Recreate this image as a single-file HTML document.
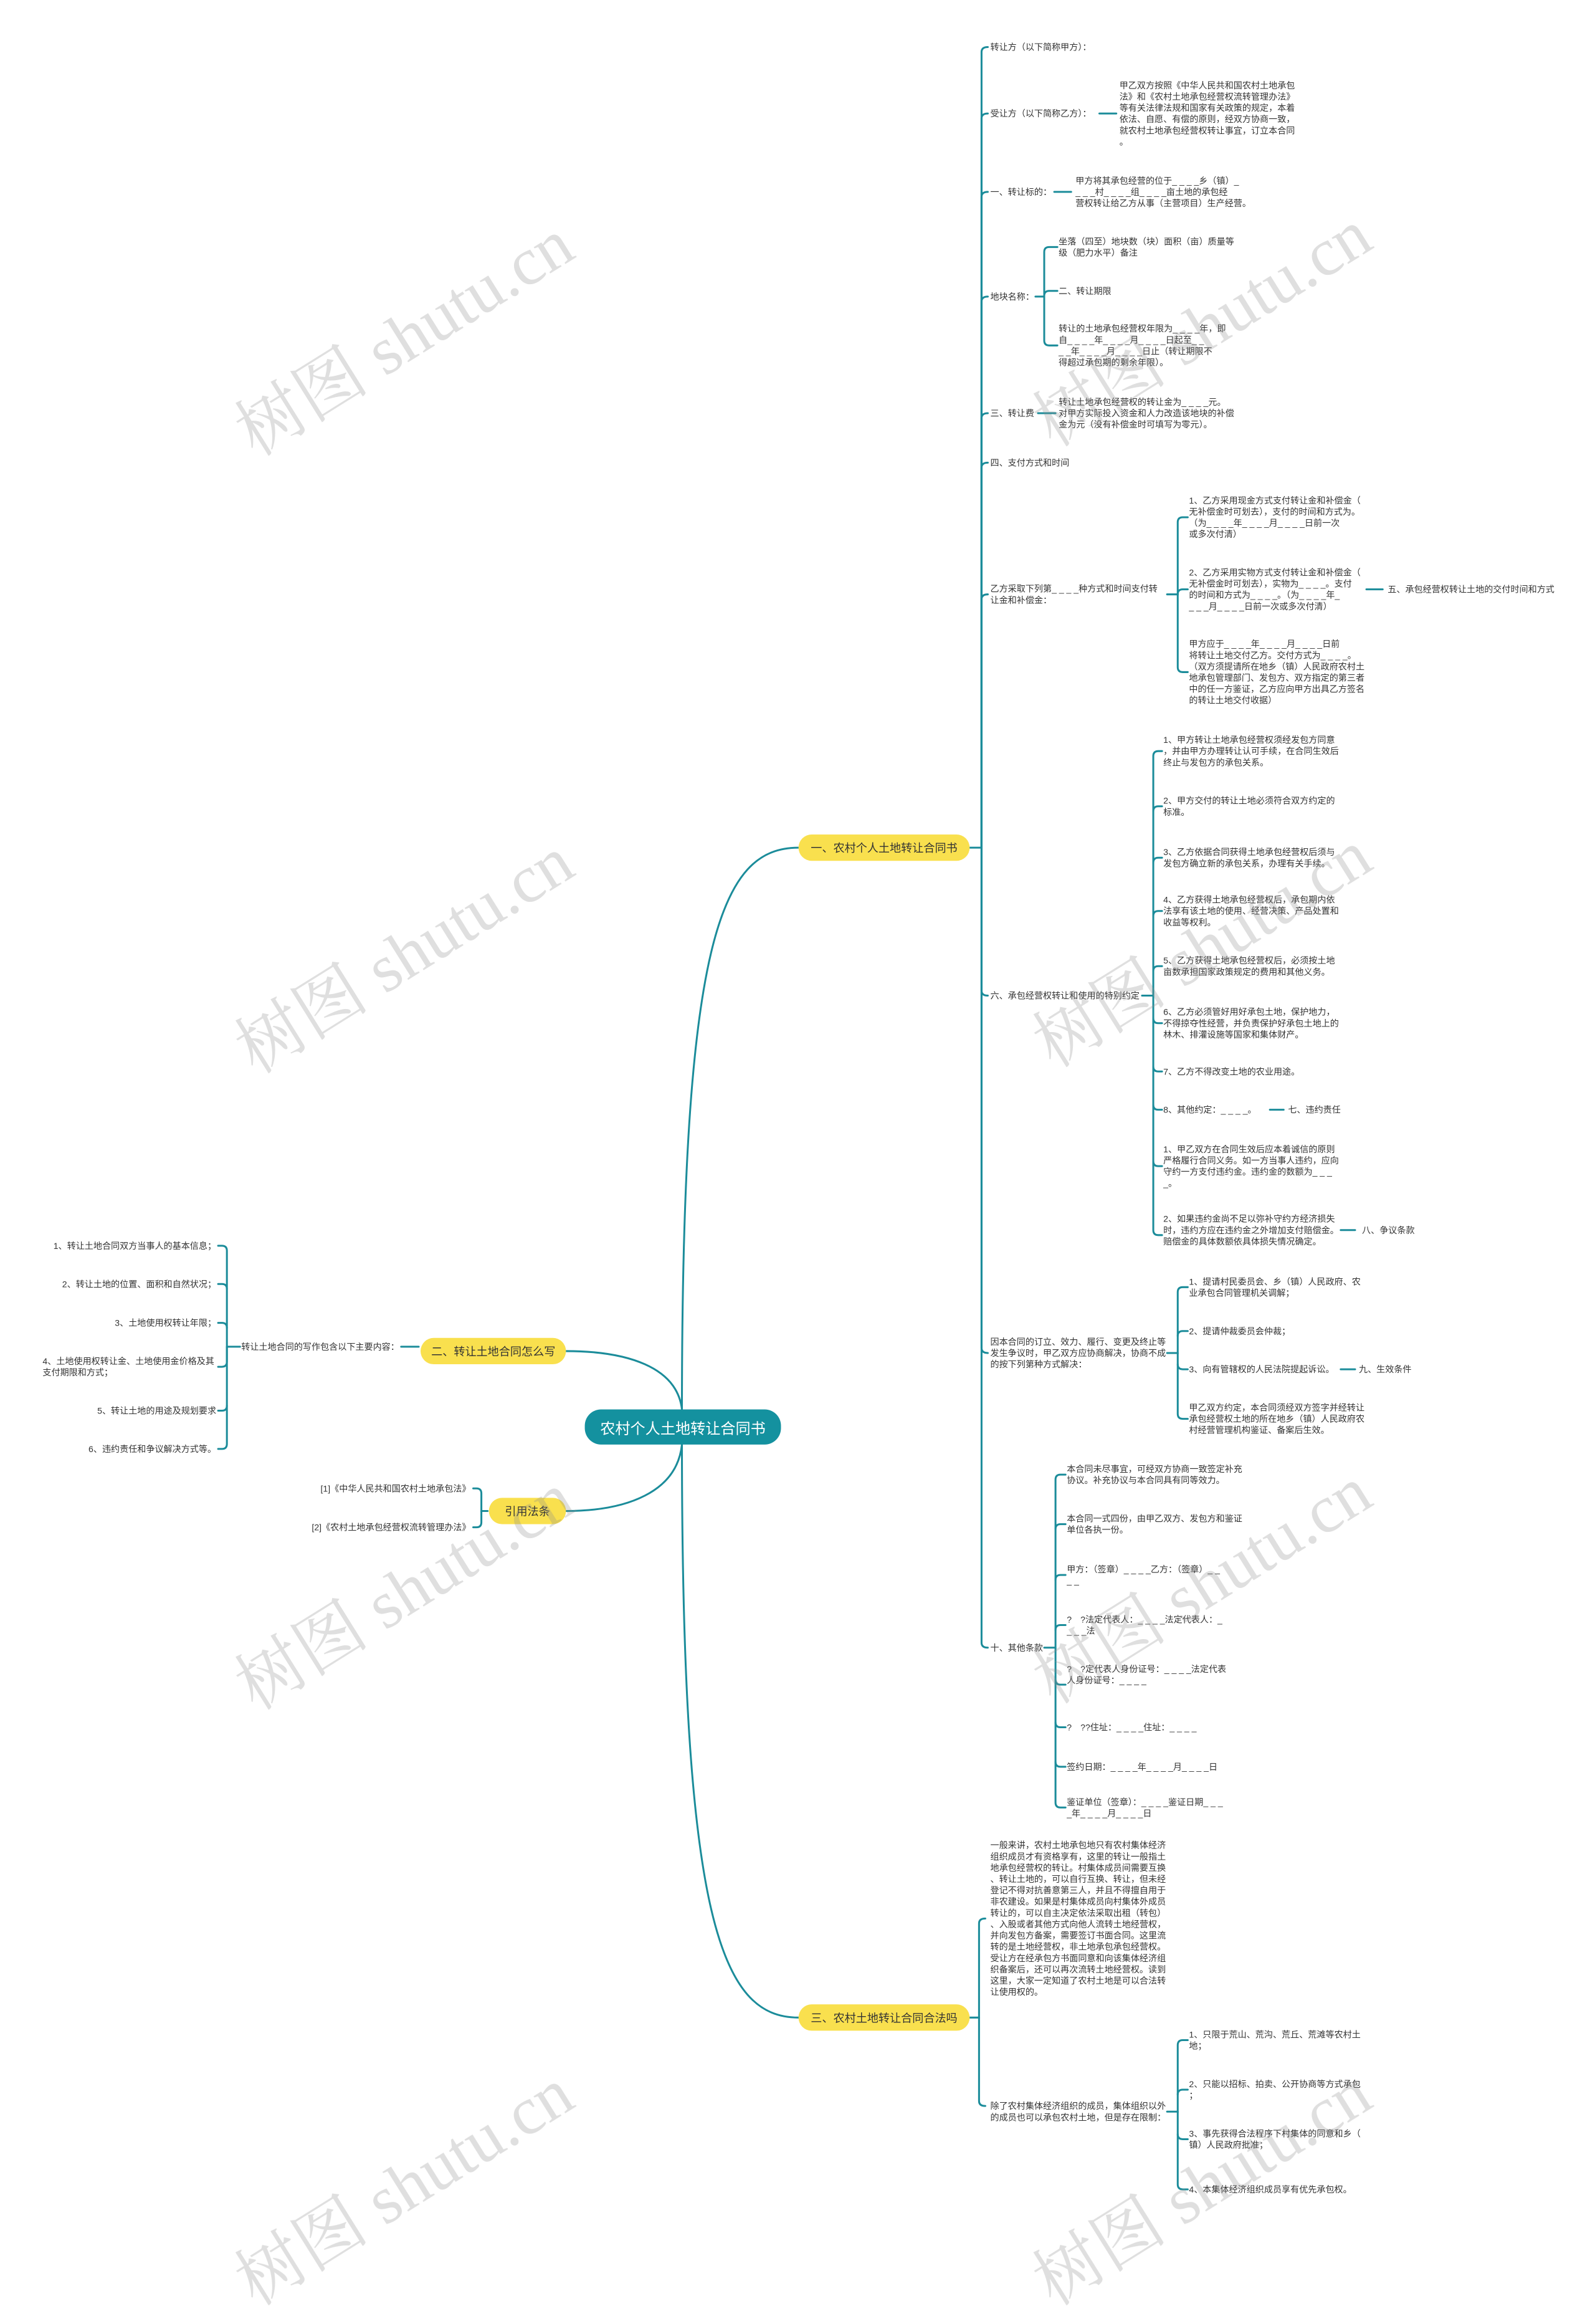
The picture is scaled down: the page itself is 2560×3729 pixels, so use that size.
<!DOCTYPE html>
<html><head><meta charset="utf-8">
<style>
html,body{margin:0;padding:0;background:#fff;}
body{width:2560px;height:3571px;overflow:hidden;position:relative;font-family:"Liberation Sans","Noto Sans CJK SC",sans-serif;}
#w{position:absolute;left:0;top:0;width:2545px;height:3550px;transform:scale(1.006);transform-origin:0 0;}
.t{position:absolute;font-size:14px;line-height:18px;color:#333;white-space:nowrap;}
.r{text-align:right;}
.pill{position:absolute;background:#f9e04e;border-radius:21px;color:#333;font-size:18px;display:flex;align-items:center;justify-content:center;white-space:nowrap;}
.center{position:absolute;background:#14919f;border-radius:26px;color:#fff;font-size:24px;display:flex;align-items:center;justify-content:center;white-space:nowrap;}
.wm{position:absolute;font-family:"Liberation Serif","Noto Serif CJK SC",serif;font-size:108px;color:rgba(140,140,140,0.28);white-space:nowrap;transform:translate(-50%,-50%) rotate(-32deg);}
svg{position:absolute;left:0;top:0;}
</style></head><body><div id="w">
<svg width="2545" height="3550" fill="none" stroke="#1b8c9a" stroke-width="3" stroke-linecap="round">
<!-- main curves -->
<path d="M1088,2248 C1088,1500 1150,1352 1274,1352"/>
<path d="M1088,2304 C1088,3060 1150,3218 1274,3218"/>
<path d="M1088,2248 C1080,2180 1000,2155 903,2155"/>
<path d="M1088,2304 C1080,2380 1000,2410 903,2410"/>
<!-- branch1 trunk -->
<path d="M1547,1352 H1566"/>
<path d="M1566,1352 V83 Q1566,75 1576,75"/>
<path d="M1566,1352 V189 Q1566,181 1576,181"/>
<path d="M1566,1352 V314 Q1566,306 1576,306"/>
<path d="M1566,1352 V481 Q1566,473 1576,473"/>
<path d="M1566,1352 V667 Q1566,659 1576,659"/>
<path d="M1566,1352 V746 Q1566,738 1576,738"/>
<path d="M1566,1352 V956 Q1566,948 1576,948"/>
<path d="M1566,1352 V1580 Q1566,1588 1576,1588"/>
<path d="M1566,1352 V2150 Q1566,2158 1576,2158"/>
<path d="M1566,1352 V2620 Q1566,2628 1576,2628"/>
<!-- branch3 -->
<path d="M1547,3218 H1562 V3068 Q1562,3060 1572,3060"/>
<path d="M1562,3218 V3351 Q1562,3359 1572,3359"/>
<!-- simple lines -->
<path d="M1754,181 H1781"/>
<path d="M1682,306 H1709"/>
<path d="M1656,659 H1684"/>
<path d="M2180,940 H2206"/>
<path d="M2026,1770 H2048"/>
<path d="M2139,1962 H2162"/>
<path d="M2139,2184 H2162"/>
<path d="M640,2148 H668"/>
<!-- D bracket -->
<path d="M1652,473 H1666 V402 Q1666,394 1674,394 H1687"/>
<path d="M1666,473 V472 Q1666,464 1674,464 H1687"/>
<path d="M1666,473 V543 Q1666,551 1674,551 H1687"/>
<!-- G bracket -->
<path d="M1862,948 H1879 V833 Q1879,825 1887,825 H1895"/>
<path d="M1879,948 Q1879,940 1887,940 H1895"/>
<path d="M1879,948 V1064 Q1879,1072 1887,1072 H1895"/>
<!-- H bracket -->
<path d="M1822,1588 H1840 V1206 Q1840,1198 1848,1198 H1854"/>
<path d="M1840,1294 Q1840,1286 1848,1286 H1854"/>
<path d="M1840,1376 Q1840,1368 1848,1368 H1854"/>
<path d="M1840,1461 Q1840,1453 1848,1453 H1854"/>
<path d="M1840,1549 Q1840,1541 1848,1541 H1854"/>
<path d="M1840,1588 V1962 Q1840,1970 1848,1970 H1854"/>
<path d="M1840,1624 Q1840,1632 1848,1632 H1854"/>
<path d="M1840,1701 Q1840,1709 1848,1709 H1854"/>
<path d="M1840,1762 Q1840,1770 1848,1770 H1854"/>
<path d="M1840,1852 Q1840,1860 1848,1860 H1854"/>
<!-- I bracket -->
<path d="M1862,2158 H1879 V2061 Q1879,2053 1887,2053 H1895"/>
<path d="M1879,2131 Q1879,2123 1887,2123 H1895"/>
<path d="M1879,2158 V2255 Q1879,2263 1887,2263 H1895"/>
<path d="M1879,2176 Q1879,2184 1887,2184 H1895"/>
<!-- J bracket -->
<path d="M1666,2628 H1684 V2360 Q1684,2352 1692,2352 H1700"/>
<path d="M1684,2439 Q1684,2431 1692,2431 H1700"/>
<path d="M1684,2520 Q1684,2512 1692,2512 H1700"/>
<path d="M1684,2600 Q1684,2592 1692,2592 H1700"/>
<path d="M1684,2628 V2875 Q1684,2883 1692,2883 H1700"/>
<path d="M1684,2679 Q1684,2687 1692,2687 H1700"/>
<path d="M1684,2747 Q1684,2755 1692,2755 H1700"/>
<path d="M1684,2810 Q1684,2818 1692,2818 H1700"/>
<!-- L bracket -->
<path d="M1862,3368 H1879 V3262 Q1879,3254 1887,3254 H1895"/>
<path d="M1879,3341 Q1879,3333 1887,3333 H1895"/>
<path d="M1879,3368 V3484 Q1879,3492 1887,3492 H1895"/>
<path d="M1879,3404 Q1879,3412 1887,3412 H1895"/>
<!-- left bracket -->
<path d="M383,2148 H362 V1995 Q362,1987 354,1987 H348"/>
<path d="M362,2056 Q362,2048 354,2048 H348"/>
<path d="M362,2118 Q362,2110 354,2110 H348"/>
<path d="M362,2148 V2172 Q362,2180 354,2180 H348"/>
<path d="M362,2148 V2242 Q362,2250 354,2250 H348"/>
<path d="M362,2242 V2303 Q362,2311 354,2311 H348"/>
<!-- ref bracket -->
<path d="M778,2410 H768 V2382 Q768,2374 760,2374 H755"/>
<path d="M768,2410 V2428 Q768,2436 760,2436 H755"/>
</svg>

<div class="center" style="left:933px;top:2248px;width:313px;height:56px;">农村个人土地转让合同书</div>
<div class="pill" style="left:1274px;top:1331px;width:273px;height:42px;">一、农村个人土地转让合同书</div>
<div class="pill" style="left:671px;top:2134px;width:232px;height:42px;">二、转让土地合同怎么写</div>
<div class="pill" style="left:780px;top:2389px;width:123px;height:42px;">引用法条</div>
<div class="pill" style="left:1274px;top:3197px;width:273px;height:42px;">三、农村土地转让合同合法吗</div>

<div class="t" style="left:1580px;top:66px;">转让方（以下简称甲方）：</div>
<div class="t" style="left:1580px;top:172px;">受让方（以下简称乙方）：</div>
<div class="t" style="left:1786px;top:127px;">甲乙双方按照《中华人民共和国农村土地承包<br>法》和《农村土地承包经营权流转管理办法》<br>等有关法律法规和国家有关政策的规定，本着<br>依法、自愿、有偿的原则，经双方协商一致，<br>就农村土地承包经营权转让事宜，订立本合同<br>。</div>
<div class="t" style="left:1580px;top:297px;">一、转让标的：</div>
<div class="t" style="left:1716px;top:279px;">甲方将其承包经营的位于_ _ _ _乡（镇）_<br>_ _ _村_ _ _ _组_ _ _ _亩土地的承包经<br>营权转让给乙方从事（主营项目）生产经营。</div>
<div class="t" style="left:1580px;top:464px;">地块名称：</div>
<div class="t" style="left:1689px;top:376px;">坐落（四至）地块数（块）面积（亩）质量等<br>级（肥力水平）备注</div>
<div class="t" style="left:1689px;top:455px;">二、转让期限</div>
<div class="t" style="left:1689px;top:515px;">转让的土地承包经营权年限为_ _ _ _年，即<br>自_ _ _ _年_ _ _ _月_ _ _ _日起至_ _<br>_ _年_ _ _ _月_ _ _ _日止（转让期限不<br>得超过承包期的剩余年限）。</div>
<div class="t" style="left:1580px;top:650px;">三、转让费</div>
<div class="t" style="left:1689px;top:632px;">转让土地承包经营权的转让金为_ _ _ _元。<br>对甲方实际投入资金和人力改造该地块的补偿<br>金为元（没有补偿金时可填写为零元）。</div>
<div class="t" style="left:1580px;top:729px;">四、支付方式和时间</div>
<div class="t" style="left:1580px;top:930px;">乙方采取下列第_ _ _ _种方式和时间支付转<br>让金和补偿金：</div>
<div class="t" style="left:1897px;top:789px;">1、乙方采用现金方式支付转让金和补偿金（<br>无补偿金时可划去），支付的时间和方式为。<br>（为_ _ _ _年_ _ _ _月_ _ _ _日前一次<br>或多次付清）</div>
<div class="t" style="left:1897px;top:904px;">2、乙方采用实物方式支付转让金和补偿金（<br>无补偿金时可划去），实物为_ _ _ _。支付<br>的时间和方式为_ _ _ _。（为_ _ _ _年_<br>_ _ _月_ _ _ _日前一次或多次付清）</div>
<div class="t" style="left:2214px;top:931px;">五、承包经营权转让土地的交付时间和方式</div>
<div class="t" style="left:1897px;top:1018px;">甲方应于_ _ _ _年_ _ _ _月_ _ _ _日前<br>将转让土地交付乙方。交付方式为_ _ _ _。<br>（双方须提请所在地乡（镇）人民政府农村土<br>地承包管理部门、发包方、双方指定的第三者<br>中的任一方鉴证，乙方应向甲方出具乙方签名<br>的转让土地交付收据）</div>
<div class="t" style="left:1580px;top:1579px;">六、承包经营权转让和使用的特别约定</div>
<div class="t" style="left:1856px;top:1171px;">1、甲方转让土地承包经营权须经发包方同意<br>，并由甲方办理转让认可手续，在合同生效后<br>终止与发包方的承包关系。</div>
<div class="t" style="left:1856px;top:1268px;">2、甲方交付的转让土地必须符合双方约定的<br>标准。</div>
<div class="t" style="left:1856px;top:1350px;">3、乙方依据合同获得土地承包经营权后须与<br>发包方确立新的承包关系，办理有关手续。</div>
<div class="t" style="left:1856px;top:1426px;">4、乙方获得土地承包经营权后，承包期内依<br>法享有该土地的使用、经营决策、产品处置和<br>收益等权利。</div>
<div class="t" style="left:1856px;top:1523px;">5、乙方获得土地承包经营权后，必须按土地<br>亩数承担国家政策规定的费用和其他义务。</div>
<div class="t" style="left:1856px;top:1605px;">6、乙方必须管好用好承包土地，保护地力，<br>不得掠夺性经营，并负责保护好承包土地上的<br>林木、排灌设施等国家和集体财产。</div>
<div class="t" style="left:1856px;top:1700px;">7、乙方不得改变土地的农业用途。</div>
<div class="t" style="left:1856px;top:1761px;">8、其他约定：_ _ _ _。</div>
<div class="t" style="left:2055px;top:1761px;">七、违约责任</div>
<div class="t" style="left:1856px;top:1824px;">1、甲乙双方在合同生效后应本着诚信的原则<br>严格履行合同义务。如一方当事人违约，应向<br>守约一方支付违约金。违约金的数额为_ _ _<br>_。</div>
<div class="t" style="left:1856px;top:1935px;">2、如果违约金尚不足以弥补守约方经济损失<br>时，违约方应在违约金之外增加支付赔偿金。<br>赔偿金的具体数额依具体损失情况确定。</div>
<div class="t" style="left:2173px;top:1953px;">八、争议条款</div>
<div class="t" style="left:1580px;top:2131px;">因本合同的订立、效力、履行、变更及终止等<br>发生争议时，甲乙双方应协商解决，协商不成<br>的按下列第种方式解决：</div>
<div class="t" style="left:1897px;top:2035px;">1、提请村民委员会、乡（镇）人民政府、农<br>业承包合同管理机关调解；</div>
<div class="t" style="left:1897px;top:2114px;">2、提请仲裁委员会仲裁；</div>
<div class="t" style="left:1897px;top:2175px;">3、向有管辖权的人民法院提起诉讼。</div>
<div class="t" style="left:2168px;top:2175px;">九、生效条件</div>
<div class="t" style="left:1897px;top:2236px;">甲乙双方约定，本合同须经双方签字并经转让<br>承包经营权土地的所在地乡（镇）人民政府农<br>村经营管理机构鉴证、备案后生效。</div>
<div class="t" style="left:1580px;top:2619px;">十、其他条款</div>
<div class="t" style="left:1702px;top:2334px;">本合同未尽事宜，可经双方协商一致签定补充<br>协议。补充协议与本合同具有同等效力。</div>
<div class="t" style="left:1702px;top:2413px;">本合同一式四份，由甲乙双方、发包方和鉴证<br>单位各执一份。</div>
<div class="t" style="left:1702px;top:2494px;">甲方：（签章）_ _ _ _乙方：（签章）_ _<br>_ _</div>
<div class="t" style="left:1702px;top:2574px;">?　?法定代表人：_ _ _ _法定代表人：_<br>_ _ _法</div>
<div class="t" style="left:1702px;top:2653px;">?　?定代表人身份证号：_ _ _ _法定代表<br>人身份证号：_ _ _ _</div>
<div class="t" style="left:1702px;top:2746px;">?　??住址：_ _ _ _住址：_ _ _ _</div>
<div class="t" style="left:1702px;top:2809px;">签约日期：_ _ _ _年_ _ _ _月_ _ _ _日</div>
<div class="t" style="left:1702px;top:2865px;">鉴证单位（签章）：_ _ _ _鉴证日期_ _ _<br>_年_ _ _ _月_ _ _ _日</div>
<div class="t" style="left:1580px;top:2934px;">一般来讲，农村土地承包地只有农村集体经济<br>组织成员才有资格享有，这里的转让一般指土<br>地承包经营权的转让。村集体成员间需要互换<br>、转让土地的，可以自行互换、转让，但未经<br>登记不得对抗善意第三人，并且不得擅自用于<br>非农建设。如果是村集体成员向村集体外成员<br>转让的，可以自主决定依法采取出租（转包）<br>、入股或者其他方式向他人流转土地经营权，<br>并向发包方备案，需要签订书面合同。这里流<br>转的是土地经营权，非土地承包承包经营权。<br>受让方在经承包方书面同意和向该集体经济组<br>织备案后，还可以再次流转土地经营权。读到<br>这里，大家一定知道了农村土地是可以合法转<br>让使用权的。</div>
<div class="t" style="left:1580px;top:3350px;">除了农村集体经济组织的成员，集体组织以外<br>的成员也可以承包农村土地，但是存在限制：</div>
<div class="t" style="left:1897px;top:3236px;">1、只限于荒山、荒沟、荒丘、荒滩等农村土<br>地；</div>
<div class="t" style="left:1897px;top:3315px;">2、只能以招标、拍卖、公开协商等方式承包<br>；</div>
<div class="t" style="left:1897px;top:3394px;">3、事先获得合法程序下村集体的同意和乡（<br>镇）人民政府批准；</div>
<div class="t" style="left:1897px;top:3483px;">4、本集体经济组织成员享有优先承包权。</div>

<div class="t" style="left:385px;top:2139px;">转让土地合同的写作包含以下主要内容：</div>
<div class="t r" style="right:2200px;top:1978px;">1、转让土地合同双方当事人的基本信息；</div>
<div class="t r" style="right:2200px;top:2039px;">2、转让土地的位置、面积和自然状况；</div>
<div class="t r" style="right:2200px;top:2101px;">3、土地使用权转让年限；</div>
<div class="t" style="left:68px;top:2162px;">4、土地使用权转让金、土地使用金价格及其<br>支付期限和方式；</div>
<div class="t r" style="right:2200px;top:2241px;">5、转让土地的用途及规划要求</div>
<div class="t r" style="right:2200px;top:2302px;">6、违约责任和争议解决方式等。</div>
<div class="t r" style="right:1794px;top:2365px;">[1]《中华人民共和国农村土地承包法》</div>
<div class="t r" style="right:1794px;top:2427px;">[2]《农村土地承包经营权流转管理办法》</div>

<div class="wm" style="left:640px;top:530px;">树图 shutu.cn</div>
<div class="wm" style="left:1913px;top:515px;">树图 shutu.cn</div>
<div class="wm" style="left:640px;top:1515px;">树图 shutu.cn</div>
<div class="wm" style="left:1913px;top:1505px;">树图 shutu.cn</div>
<div class="wm" style="left:640px;top:2530px;">树图 shutu.cn</div>
<div class="wm" style="left:1913px;top:2520px;">树图 shutu.cn</div>
<div class="wm" style="left:640px;top:3480px;">树图 shutu.cn</div>
<div class="wm" style="left:1913px;top:3480px;">树图 shutu.cn</div>
</div></body></html>
